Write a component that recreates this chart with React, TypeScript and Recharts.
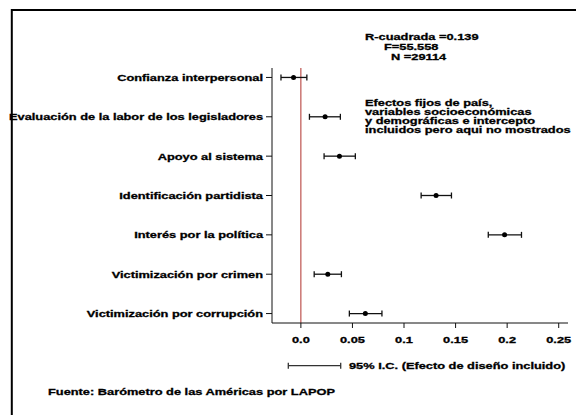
import { ErrorBar, ReferenceLine, Scatter, ScatterChart, XAxis, YAxis } from "recharts";

const categories = [
  "Confianza interpersonal",
  "Evaluación de la labor de los legisladores",
  "Apoyo al sistema",
  "Identificación partidista",
  "Interés por la política",
  "Victimización por crimen",
  "Victimización por corrupción",
];
const coefficients = [-0.0071, 0.0235, 0.0374, 0.1311, 0.1975, 0.0261, 0.0625];
const ciLow = [-0.0193, 0.0083, 0.0225, 0.1166, 0.1817, 0.0129, 0.047];
const ciHigh = [0.0058, 0.0383, 0.0528, 0.146, 0.2139, 0.0393, 0.0786];

const xTicks = [0, 0.05, 0.1, 0.15, 0.2, 0.25];
const xTickLabels = ["0.0", "0.05", "0.1", "0.15", "0.2", "0.25"];

const statsLines = ["R-cuadrada =0.139", "F=55.558", "N =29114"];
const noteLines = [
  "Efectos fijos de país,",
  "variables socioeconómicas",
  "y demográficas e intercepto",
  "incluidos pero aqui no mostrados",
];
const legendLabel = "95% I.C. (Efecto de diseño incluido)";
const sourceLabel = "Fuente: Barómetro de las Américas por LAPOP";

const data = categories.map((name, i) => ({
  name,
  pos: i + 1,
  coef: coefficients[i],
  err: [coefficients[i] - ciLow[i], ciHigh[i] - coefficients[i]],
}));

const FONT = "'Liberation Sans', Arial, Helvetica, sans-serif";
const STRETCH = 1.35;

// the original figure is squeezed vertically, so text is widened to match
function Label({ x, y, anchor = "start", children }: { x: number; y: number; anchor?: string; children: any }) {
  return (
    <text
      transform={`translate(${x} ${y}) scale(${STRETCH} 1)`}
      textAnchor={anchor}
      fontFamily={FONT}
      fontWeight="bold"
      fontSize={9.5}
      fill="#000"
      stroke="#000"
      strokeWidth={0.3}
    >
      {children}
    </text>
  );
}

function CategoryTick({ x, y, payload }: any) {
  return (
    <Label x={x} y={y + 3.4} anchor="end">
      {categories[payload.value - 1]}
    </Label>
  );
}

function ValueTick({ x, y, payload }: any) {
  const idx = xTicks.indexOf(payload.value);
  return (
    <Label x={x} y={y + 13.3} anchor="middle">
      {xTickLabels[idx] ?? payload.value}
    </Label>
  );
}

const Dot = ({ cx, cy }: any) => <circle cx={cx} cy={cy} r={2.5} fill="#000" />;

export default function App() {
  return (
    <div style={{ position: "absolute", left: 0, top: 0, width: 576, height: 415, background: "#fff" }}>
      <ScatterChart width={576} height={415} margin={{ top: 68, right: 8, bottom: 72, left: 0 }}>
        <XAxis
          type="number"
          dataKey="coef"
          domain={[-0.028, 0.259]}
          ticks={xTicks}
          allowDataOverflow
          tick={<ValueTick />}
          tickSize={5}
          tickMargin={2}
          height={20}
          stroke="#111"
        />
        <YAxis
          type="number"
          dataKey="pos"
          domain={[0.76, 7.24]}
          ticks={[1, 2, 3, 4, 5, 6, 7]}
          interval={0}
          reversed
          allowDataOverflow
          tick={<CategoryTick />}
          tickSize={6}
          tickMargin={3}
          width={272}
          stroke="#111"
        />
        <ReferenceLine x={0} stroke="#b0302c" strokeWidth={1} />
        <Scatter data={data} isAnimationActive={false} shape={<Dot />}>
          <ErrorBar dataKey="err" direction="x" width={3} stroke="#111" strokeWidth={1.3} isAnimationActive={false} />
        </Scatter>
      </ScatterChart>
      <svg width={576} height={415} style={{ position: "absolute", left: 0, top: 0, pointerEvents: "none" }}>
        <path d="M11.8 415 V10 H576" fill="none" stroke="#000" strokeWidth={2} />
        <Label x={365} y={40}>{statsLines[0]}</Label>
        <Label x={384} y={50}>{statsLines[1]}</Label>
        <Label x={391} y={60}>{statsLines[2]}</Label>
        {noteLines.map((line, i) => (
          <Label key={line} x={365} y={105.5 + i * 9}>
            {line}
          </Label>
        ))}
        <g stroke="#333" strokeWidth={1.3}>
          <line x1={288.3} x2={340.7} y1={365.7} y2={365.7} />
          <line x1={288.3} x2={288.3} y1={362.7} y2={368.7} />
          <line x1={340.7} x2={340.7} y1={362.7} y2={368.7} />
        </g>
        <Label x={349} y={369.2}>{legendLabel}</Label>
        <Label x={48} y={395.2}>{sourceLabel}</Label>
      </svg>
    </div>
  );
}
